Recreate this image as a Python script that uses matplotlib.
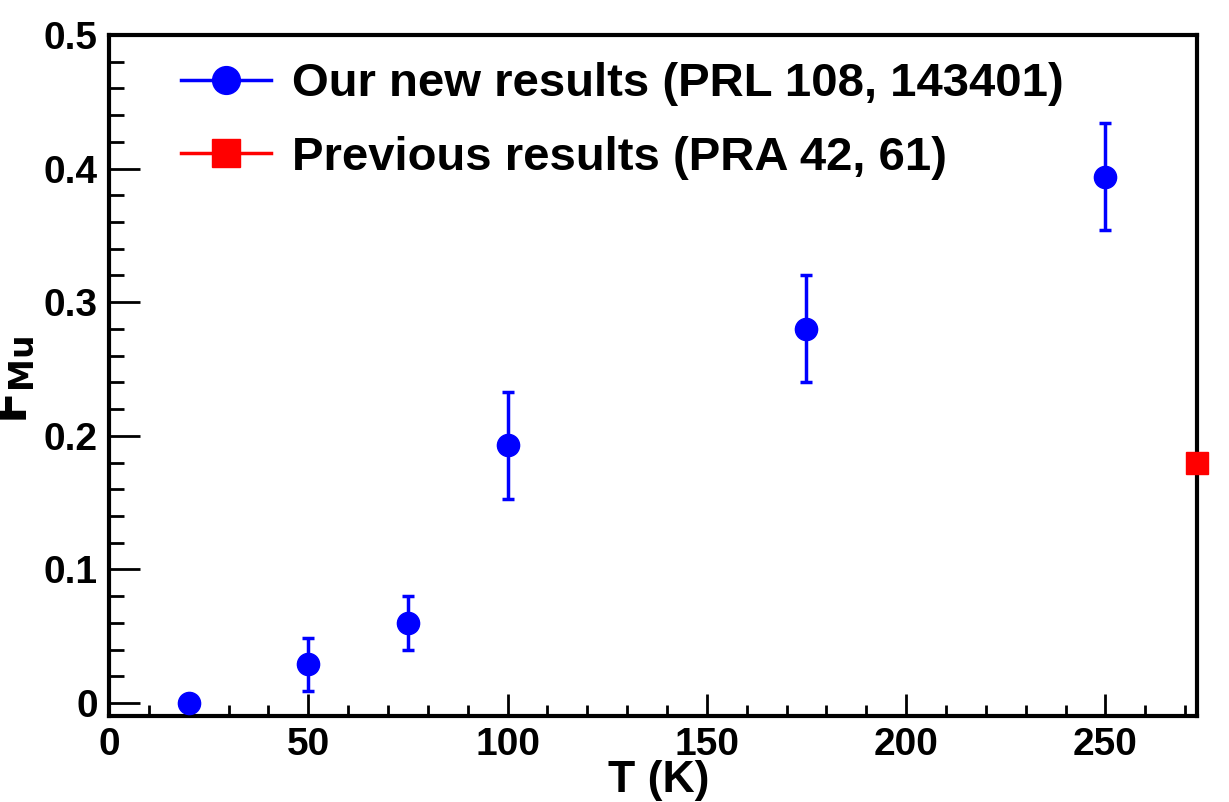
import numpy as np
import matplotlib.pyplot as plt
from matplotlib.ticker import MultipleLocator

plt.rcParams['font.family'] = ['Liberation Sans', 'DejaVu Sans']
plt.rcParams['font.weight'] = 'bold'

# our new results
T_new = [20, 50, 75, 100, 175, 250]
F_new = [0.0, 0.029, 0.060, 0.193, 0.280, 0.394]
err_new = [0.0, 0.020, 0.020, 0.040, 0.040, 0.040]

# previous results
T_old = [273]
F_old = [0.18]

fig = plt.figure(figsize=(12.29, 8.02), dpi=100)
ax = fig.add_axes([0.0887, 0.1072, 0.8853, 0.8492])

ax.errorbar(T_new, F_new, yerr=err_new, fmt='o', color='blue', ms=16,
            elinewidth=2.5, capsize=4, capthick=2.5, clip_on=False, zorder=3)
ax.plot(T_old, F_old, 's', color='red', ms=16, clip_on=False, zorder=4)

# legend handles (line + marker, ROOT style)
h1, = ax.plot([], [], '-o', color='blue', ms=20, lw=2.5)
h2, = ax.plot([], [], '-s', color='red', ms=20, lw=2.5)
ax.legend([h1, h2], ["Our new results (PRL 108, 143401)", "Previous results (PRA 42, 61)"],
          loc='upper left', bbox_to_anchor=(0.027, 1.022), frameon=False,
          handlelength=1.9, handletextpad=0.45, labelspacing=0.62,
          prop={'weight': 'bold', 'size': 34})

ax.set_xlim(0, 273)
ax.set_ylim(-0.0097, 0.5)
ax.xaxis.set_major_locator(MultipleLocator(50))
ax.xaxis.set_minor_locator(MultipleLocator(10))
ax.yaxis.set_major_locator(MultipleLocator(0.1))
ax.yaxis.set_minor_locator(MultipleLocator(0.02))
ax.set_yticks([0, 0.1, 0.2, 0.3, 0.4, 0.5])
ax.set_yticklabels(['0', '0.1', '0.2', '0.3', '0.4', '0.5'])

ax.tick_params(which='both', direction='in', top=False, right=False, width=2, labelsize=28)
ax.tick_params(axis='y', which='major', length=22, pad=8)
ax.tick_params(axis='y', which='minor', length=11)
ax.tick_params(axis='x', which='major', length=16, pad=8)
ax.tick_params(axis='x', which='minor', length=8)
for s in ax.spines.values():
    s.set_linewidth(3)

ax.set_xlabel("T (K)", fontsize=32, fontweight='bold')
ax.xaxis.set_label_coords(0.505, -0.064)
fig.text(-0.007, 0.527, r"$\mathbf{F}_{\mathbf{Mu}}$", rotation=90, fontsize=34,
         va='center', ha='left')

fig.savefig("out.png", dpi=100)
